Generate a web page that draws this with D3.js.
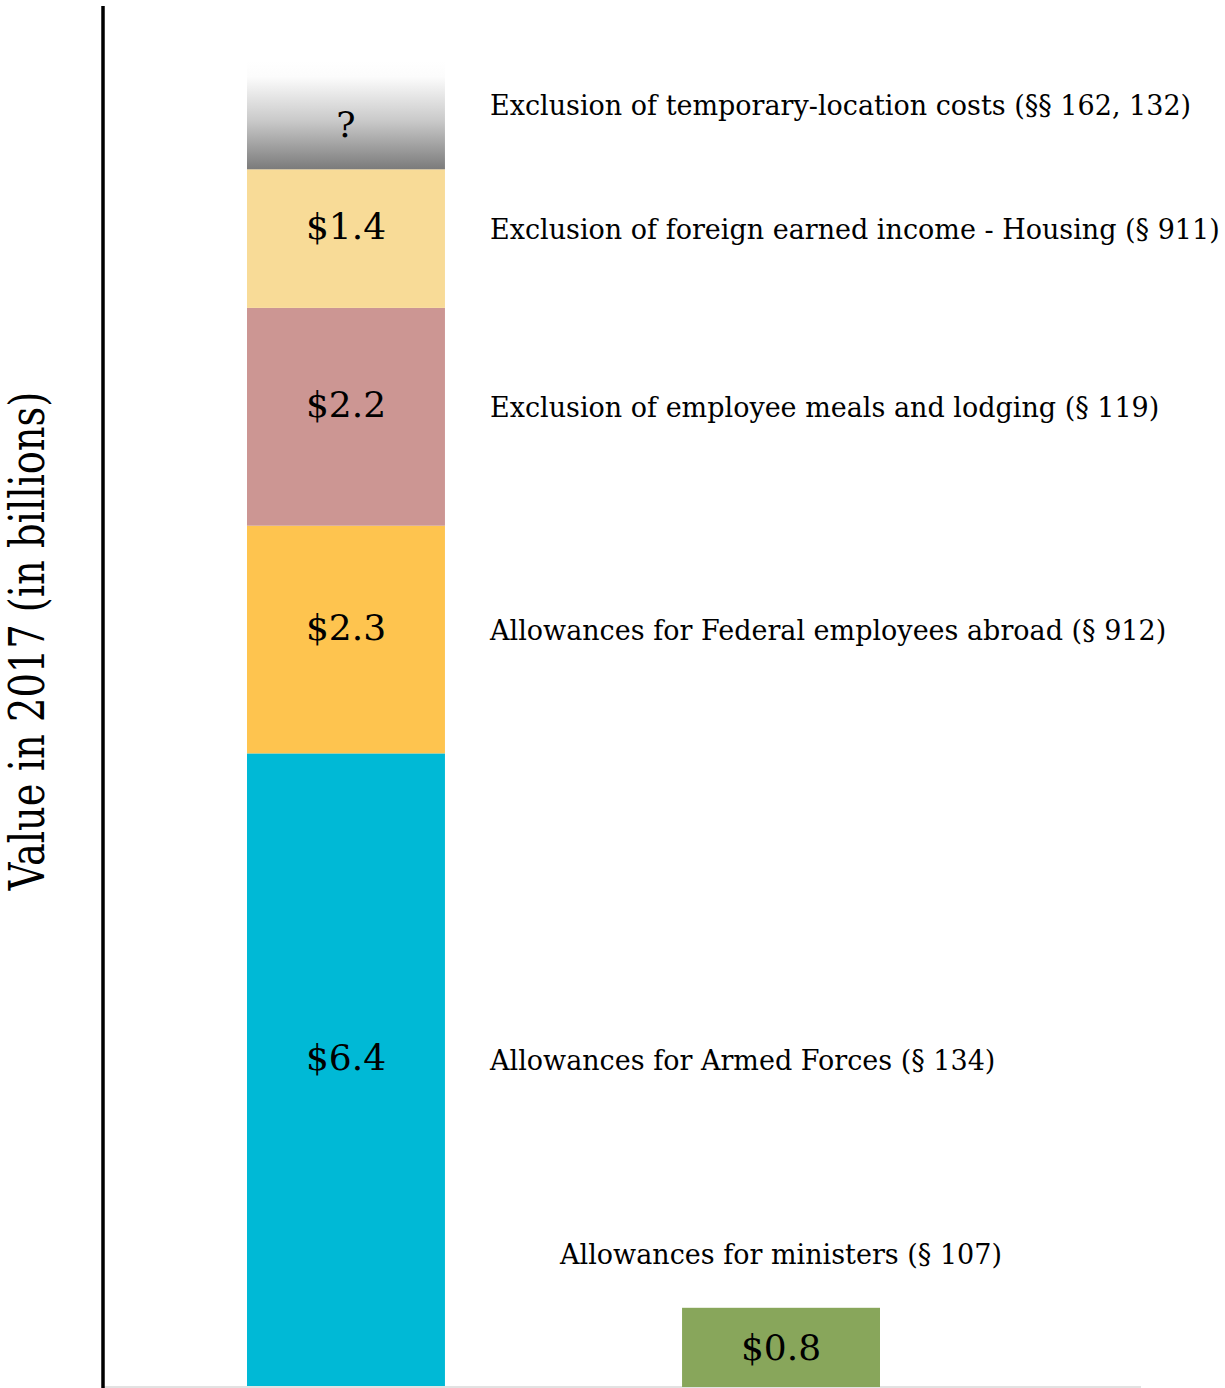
<!DOCTYPE html>
<html>
<head>
<meta charset="utf-8">
<script src="https://cdn.jsdelivr.net/npm/d3@7"></script>
<style>
  html, body { margin: 0; padding: 0; background: #fff; }
  svg { display: block; }
  text { font-family: "DejaVu Serif", "Liberation Serif", serif; fill: #000; }
</style>
</head>
<body>
<svg id="chart" width="1225" height="1388"></svg>
<script>
// ---- data ----
const barCategories = ["Stacked provisions", "Ministers"];
const stackKeys = [
  "Allowances for Armed Forces (§ 134)",
  "Allowances for Federal employees abroad (§ 912)",
  "Exclusion of employee meals and lodging (§ 119)",
  "Exclusion of foreign earned income - Housing (§ 911)",
  "Exclusion of temporary-location costs (§§ 162, 132)"
];
const stackValues = [6.4, 2.3, 2.2, 1.4, 1.1];          // last one unknown (drawn as faded "?")
const stackValueLabels = ["$6.4", "$2.3", "$2.2", "$1.4", "?"];
const stackColors = ["#00b9d6", "#fec44f", "#cc9693", "#f8db97", "url(#unknownGrad)"];
const ministersLabel = "Allowances for ministers (§ 107)";
const ministersValue = 0.8;
const ministersValueLabel = "$0.8";
const ministersColor = "#88a65b";
const yAxisTitle = "Value in 2017 (in billions)";

// ---- layout ----
const W = 1225, H = 1388;
const axisX = 103, baseY = 1387;
const svg = d3.select("#chart");

const x = d3.scaleBand().domain(barCategories).range([axisX, 1024]).paddingInner(0.545).paddingOuter(0.331);
const y = d3.scaleLinear().domain([0, 14]).range([baseY, baseY - 14 * 99]);

const defs = svg.append("defs");
const grad = defs.append("linearGradient").attr("id", "unknownGrad")
  .attr("x1", 0).attr("y1", 0).attr("x2", 0).attr("y2", 1);
grad.append("stop").attr("offset", "0%").attr("stop-color", "#ffffff");
grad.append("stop").attr("offset", "15%").attr("stop-color", "#fcfcfc");
grad.append("stop").attr("offset", "55%").attr("stop-color", "#cacaca");
grad.append("stop").attr("offset", "100%").attr("stop-color", "#7b7b7b");

// stack
const row = {};
stackKeys.forEach((k, i) => row[k] = stackValues[i]);
const series = d3.stack().keys(stackKeys)([row]);

const bx = x(barCategories[0]), bw = x.bandwidth();
const segs = svg.append("g");
series.forEach((s, i) => {
  const d = s[0];
  segs.append("rect")
    .attr("x", bx).attr("width", bw)
    .attr("y", y(d[1])).attr("height", y(d[0]) - y(d[1]))
    .attr("fill", stackColors[i]);
});

// baseline
svg.append("line").attr("x1", axisX).attr("x2", 1141).attr("y1", baseY).attr("y2", baseY)
  .attr("stroke", "#e2e2e2").attr("stroke-width", 2);

// ministers bar
const mx = x(barCategories[1]);
svg.append("rect").attr("x", mx).attr("width", bw)
  .attr("y", y(ministersValue)).attr("height", y(0) - y(ministersValue))
  .attr("fill", ministersColor);

// y axis line
svg.append("line").attr("x1", axisX).attr("x2", axisX).attr("y1", 6).attr("y2", H)
  .attr("stroke", "#000").attr("stroke-width", 3.5);

// value labels inside stacked bar + category labels
series.forEach((s, i) => {
  const d = s[0];
  const mid = (y(d[0]) + y(d[1])) / 2;
  const isUnknown = stackValueLabels[i] === "?";
  svg.append("text")
    .attr("x", bx + bw / 2).attr("y", isUnknown ? mid + 22 : mid)
    .attr("text-anchor", "middle")
    .attr("font-size", 36)
    .text(stackValueLabels[i]);
  svg.append("text")
    .attr("x", 490).attr("y", mid)
    .attr("font-size", 27)
    .text(stackKeys[i]);
});

// ministers labels
svg.append("text")
  .attr("x", mx + bw / 2).attr("y", (y(0) + y(ministersValue)) / 2)
  .attr("dy", "0.35em")
  .attr("text-anchor", "middle").attr("font-size", 36)
  .text(ministersValueLabel);
svg.append("text")
  .attr("x", mx + bw / 2).attr("y", y(ministersValue) - 44)
  .attr("text-anchor", "middle").attr("font-size", 27)
  .text(ministersLabel);

// y-axis title
svg.append("text")
  .attr("transform", `translate(44,641) rotate(-90) scale(0.8,1)`)
  .attr("text-anchor", "middle").attr("font-size", 48)
  .text(yAxisTitle);
</script>
</body>
</html>
